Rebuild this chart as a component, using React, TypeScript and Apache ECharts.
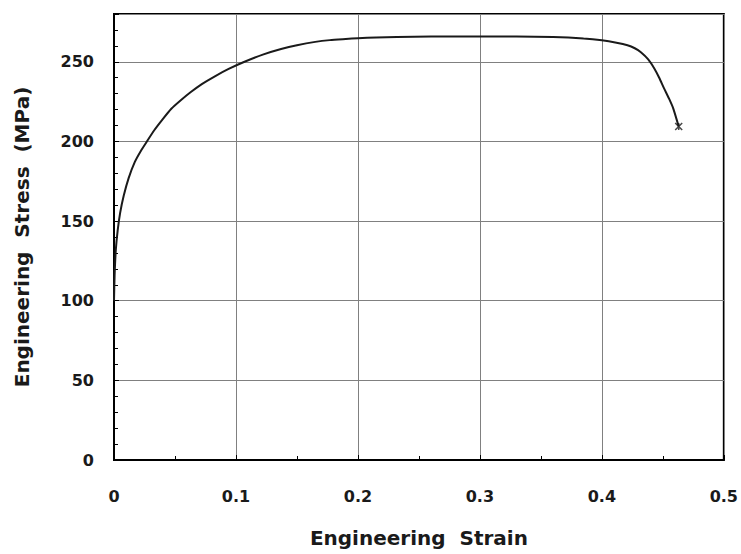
import React, { useEffect, useRef } from "react";
import * as echarts from "echarts";

const strain = [0, 0.0005, 0.0015, 0.003, 0.005, 0.008, 0.012, 0.017, 0.022, 0.027, 0.033, 0.040, 0.047, 0.055, 0.063, 0.072, 0.082, 0.094, 0.107, 0.122, 0.137, 0.15, 0.165, 0.177, 0.19, 0.2, 0.215, 0.232, 0.26, 0.3, 0.33, 0.36, 0.385, 0.4, 0.412, 0.421, 0.427, 0.432, 0.438, 0.443, 0.447, 0.451, 0.455, 0.4585, 0.463];
const stress = [100, 116, 132, 144, 155, 166, 177, 187, 194, 200, 207, 214, 220.5, 226, 231, 236, 240.6, 245.5, 250, 254.5, 258, 260.4, 262.5, 263.6, 264.3, 264.8, 265.3, 265.6, 265.8, 265.8, 265.8, 265.5, 264.6, 263.5, 262, 260.4, 258.5, 256, 251.5, 245.8, 240, 233.3, 227, 220.8, 209.4];
const fracture = [[0.463, 209.4]];
const xTicks = [0, 0.1, 0.2, 0.3, 0.4, 0.5];
const yTicks = [0, 50, 100, 150, 200, 250];

export default function App() {
  const ref = useRef<HTMLDivElement>(null);
  useEffect(() => {
    if (!ref.current) return;
    const chart = echarts.init(ref.current, null, { renderer: "svg" });
    const font = { fontFamily: "DejaVu Sans, Liberation Sans, Arial, sans-serif", fontWeight: "bold" as const, color: "#1a1a1a" };
    chart.setOption({
      animation: false,
      backgroundColor: "#fff",
      grid: { left: 114, right: 16, top: 14, bottom: 94, show: true, borderColor: "#000", borderWidth: 2 },
      xAxis: {
        type: "value", min: 0, max: 0.5, interval: 0.1,
        name: "Engineering  Strain", nameLocation: "middle", nameGap: 68,
        nameTextStyle: { ...font, fontSize: 20 },
        axisLine: { show: true, lineStyle: { color: "#000", width: 2 } },
        axisTick: { show: true, inside: true, length: 5, lineStyle: { color: "#000" } },
        minorTick: { show: true, splitNumber: 2, length: 4, lineStyle: { color: "#000" } },
        axisLabel: { ...font, fontSize: 16, margin: 28, formatter: (v: number) => { const r = Math.round(v * 10) / 10; return xTicks.includes(r) ? (r === 0 ? "0" : r.toFixed(1)) : ""; } },
        splitLine: { show: true, lineStyle: { color: "#808080", width: 1 } },
      },
      yAxis: {
        type: "value", min: 0, max: 280, interval: 50,
        name: "Engineering  Stress  (MPa)", nameLocation: "middle", nameGap: 82,
        nameTextStyle: { ...font, fontSize: 20 },
        axisLine: { show: true, lineStyle: { color: "#000", width: 2 } },
        axisTick: { show: true, inside: true, length: 5, lineStyle: { color: "#000" } },
        minorTick: { show: true, splitNumber: 5, length: 4, lineStyle: { color: "#000" } },
        axisLabel: { ...font, fontSize: 16, margin: 20, formatter: (v: number) => yTicks.includes(v) ? String(v) : "" },
        splitLine: { show: true, lineStyle: { color: "#808080", width: 1 } },
      },
      series: [
        {
          type: "line",
          data: strain.map((s, i) => [s, stress[i]]),
          smooth: 0.2,
          showSymbol: false,
          lineStyle: { color: "#1a1a1a", width: 2 },
        },
        {
          type: "scatter",
          data: fracture,
          symbol: "path://M0,0L10,10M10,0L0,10M5,0L5,10",
          symbolSize: 7,
          itemStyle: { color: "none", borderColor: "#1a1a1a", borderWidth: 1.5 },
        },
      ],
    });
    return () => chart.dispose();
  }, []);
  return <div ref={ref} style={{ width: 741, height: 554, position: "absolute", left: 0, top: 0 }} />;
}
